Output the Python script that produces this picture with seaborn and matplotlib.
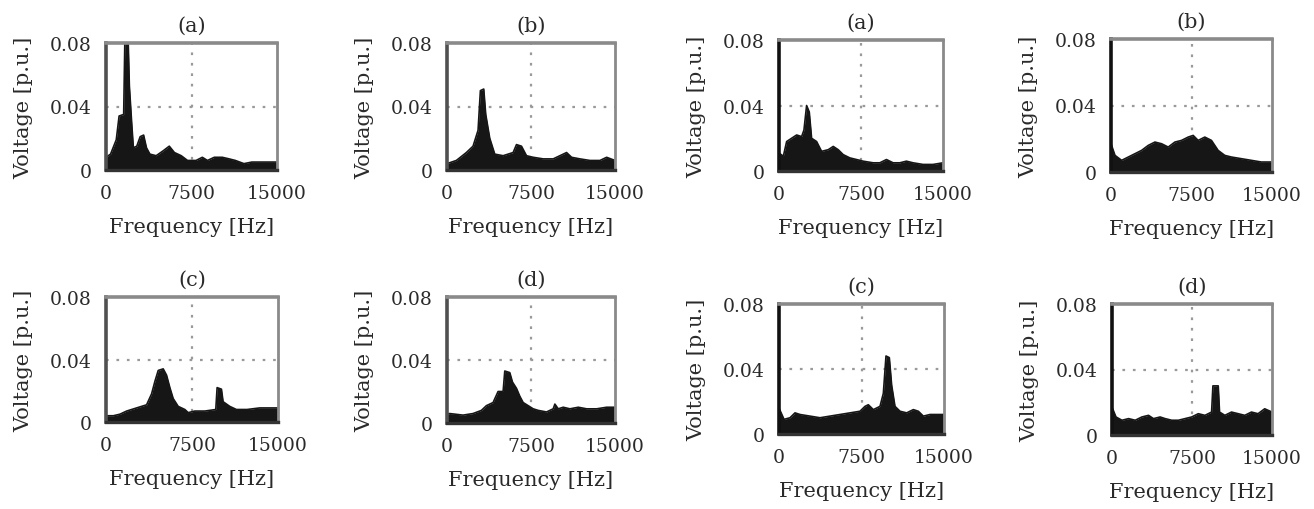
import matplotlib
matplotlib.use("Agg")
import matplotlib.pyplot as plt
import seaborn as sns
import numpy as np

sns.set_theme(style="white")
plt.rcParams['font.family'] = ['DejaVu Serif']

# ---- data (Hz, p.u.) ----
f_a1 = [0, 400, 900, 1150, 1550, 1650, 1950, 2050, 2250, 2400, 2700, 3000, 3300, 3550, 3850, 4400,
        5000, 5550, 6000, 6600, 7150, 7900, 8450, 8900, 9500, 10200, 10800, 11350, 12100, 12800, 13700, 15000]
v_a1 = [0.008, 0.010, 0.019, 0.034, 0.035, 0.080, 0.080, 0.053, 0.030, 0.014, 0.015, 0.021, 0.022, 0.014, 0.010, 0.009,
        0.012, 0.015, 0.011, 0.009, 0.006, 0.006, 0.008, 0.006, 0.008, 0.008, 0.007, 0.006, 0.004, 0.005, 0.005, 0.005]

f_b1 = [0, 835, 1730, 2326, 2773, 2982, 3280, 3459, 3817, 4264, 5010, 5905, 6203, 6650, 7097, 7694,
        8588, 9483, 10080, 10676, 11123, 11869, 12763, 13658, 14254, 15000]
v_b1 = [0.004, 0.006, 0.011, 0.015, 0.025, 0.050, 0.051, 0.035, 0.020, 0.010, 0.009, 0.011, 0.016, 0.015, 0.009, 0.008,
        0.007, 0.007, 0.009, 0.011, 0.008, 0.007, 0.006, 0.006, 0.008, 0.006]

f_c1 = [0, 638, 1218, 1799, 2669, 3540, 3975, 4265, 4555, 4990, 5280, 5570, 5860, 6295, 6875, 7166,
        7746, 8616, 9574, 9690, 10067, 10212, 10792, 11372, 12302, 13403, 15000]
v_c1 = [0.004, 0.004, 0.005, 0.007, 0.009, 0.011, 0.018, 0.026, 0.033, 0.034, 0.030, 0.022, 0.015, 0.010, 0.008, 0.006,
        0.007, 0.007, 0.008, 0.022, 0.021, 0.013, 0.010, 0.008, 0.008, 0.009, 0.009]

f_d1 = [0, 239, 1431, 2326, 3071, 3519, 4115, 4562, 5010, 5159, 5606, 5845, 6203, 6501, 6799, 7247,
        7694, 8141, 8886, 9483, 9632, 9930, 10378, 10974, 11720, 12465, 13360, 14254, 15000]
v_d1 = [0.0055, 0.006, 0.005, 0.006, 0.008, 0.011, 0.013, 0.020, 0.020, 0.033, 0.032, 0.026, 0.022, 0.017, 0.013, 0.011,
        0.009, 0.008, 0.007, 0.009, 0.012, 0.009, 0.010, 0.009, 0.010, 0.009, 0.009, 0.010, 0.010]

f_a2 = [0, 396, 700, 1156, 1613, 2069, 2282, 2525, 2769, 2982, 3438, 3894, 4503, 4960, 5416, 5872,
        6481, 7089, 7698, 8611, 9220, 9828, 10437, 11045, 11654, 12262, 13175, 14088, 15000]
v_a2 = [0.011, 0.009, 0.018, 0.020, 0.022, 0.021, 0.025, 0.040, 0.036, 0.020, 0.018, 0.012, 0.013, 0.015, 0.013, 0.010,
        0.008, 0.007, 0.006, 0.005, 0.005, 0.007, 0.005, 0.005, 0.006, 0.005, 0.004, 0.004, 0.005]

f_b2 = [0, 372, 992, 1612, 2231, 2851, 3471, 4091, 4711, 5331, 5950, 6570, 7190, 7655, 8120, 8740,
        9360, 9979, 10599, 11219, 12149, 13078, 14008, 15000]
v_b2 = [0.017, 0.010, 0.007, 0.009, 0.011, 0.013, 0.016, 0.018, 0.017, 0.015, 0.018, 0.019, 0.021, 0.022, 0.019, 0.021,
        0.019, 0.013, 0.010, 0.009, 0.008, 0.007, 0.006, 0.006]

f_c2 = [0, 455, 1000, 1455, 1909, 2818, 3727, 4636, 5545, 6455, 7364, 7818, 8121, 8576, 9182, 9485,
        9727, 10030, 10242, 10545, 11000, 11606, 12212, 12667, 13121, 13727, 14333, 15000]
v_c2 = [0.016, 0.009, 0.010, 0.013, 0.012, 0.011, 0.010, 0.011, 0.012, 0.013, 0.014, 0.017, 0.018, 0.015, 0.017, 0.025,
        0.048, 0.047, 0.030, 0.017, 0.014, 0.013, 0.015, 0.014, 0.011, 0.012, 0.012, 0.012]

f_d2 = [0, 373, 934, 1556, 2178, 2801, 3423, 3890, 4512, 4979, 5602, 6224, 6846, 7469, 8091, 8714,
        9336, 9461, 9959, 10083, 10581, 11203, 11826, 12448, 13071, 13693, 14315, 15000]
v_d2 = [0.017, 0.011, 0.009, 0.010, 0.009, 0.011, 0.012, 0.010, 0.011, 0.010, 0.009, 0.009, 0.010, 0.011, 0.013, 0.012,
        0.014, 0.030, 0.030, 0.014, 0.012, 0.014, 0.013, 0.012, 0.014, 0.013, 0.016, 0.014]

titles = ["(a)", "(b)", "(c)", "(d)", "(a)", "(b)", "(c)", "(d)"]
series = [(f_a1, v_a1), (f_b1, v_b1), (f_c1, v_c1), (f_d1, v_d1),
          (f_a2, v_a2), (f_b2, v_b2), (f_c2, v_c2), (f_d2, v_d2)]
x_ticks = [0, 7500, 15000]
x_ticklabels = ["0", "7500", "15000"]
y_ticks = [0, 0.04, 0.08]
y_ticklabels = ["0", "0.04", "0.08"]

# axes rectangles in pixels: left, top, right, bottom
W, H = 1314, 510
rects = [(106, 44, 277, 171), (447, 44, 615, 171), (106, 298, 278, 423), (447, 298, 615, 424),
         (779, 41, 943, 172), (1111, 40, 1272, 173), (779, 305, 944, 435), (1112, 305, 1272, 436)]

fig = plt.figure(figsize=(W / 100, H / 100), dpi=100)
txt = "#2a2a2a"
fs_tick = 13.5
fs_lab = 15
for i, ((fr, vv), title, (l, t, r, b)) in enumerate(zip(series, titles, rects)):
    ax = fig.add_axes([l / W, 1 - b / H, (r - l) / W, (b - t) / H])
    ax.fill_between(fr, vv, 0, color="#161616", linewidth=0)
    sns.lineplot(x=fr, y=vv, ax=ax, color="#161616", linewidth=1.2)
    ax.axvline(7500, color="#9a9a9a", linestyle=(0, (1.2, 3.5)), linewidth=1.6, zorder=0)
    ax.axhline(0.04, color="#9a9a9a", linestyle=(0, (1.2, 3.5)), linewidth=1.6, zorder=0)
    ax.set_xlim(0, 15000)
    ax.set_ylim(0, 0.08)
    ax.set_xticks(x_ticks)
    ax.set_xticklabels(x_ticklabels)
    ax.set_yticks(y_ticks)
    ax.set_yticklabels(y_ticklabels)
    ax.tick_params(axis="both", length=0, labelsize=fs_tick, colors=txt, pad=10)
    ax.set_xlabel("Frequency [Hz]", fontsize=fs_lab, color=txt, labelpad=11)
    ax.set_ylabel("Voltage [p.u.]", fontsize=fs_lab, color=txt, labelpad=12)
    ax.set_title(title, fontsize=fs_lab, color=txt, pad=9)
    ax.grid(False)
    right_group = i >= 4
    ax.spines["left"].set_color("#111111" if right_group else "#505050")
    ax.spines["left"].set_linewidth(2.6)
    ax.spines["top"].set_color("#8a8a8a")
    ax.spines["top"].set_linewidth(2.6)
    ax.spines["right"].set_color("#8a8a8a")
    ax.spines["right"].set_linewidth(2.0)
    ax.spines["bottom"].set_color("#333333")
    ax.spines["bottom"].set_linewidth(2.4)

fig.savefig("out.png", dpi=100, facecolor="white")
